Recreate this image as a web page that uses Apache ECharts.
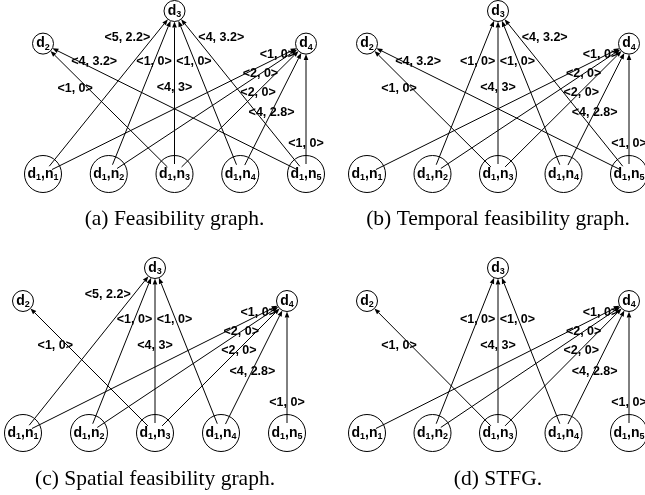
<!DOCTYPE html>
<html>
<head>
<meta charset="utf-8">
<script src="https://cdn.jsdelivr.net/npm/echarts@6/dist/echarts.min.js"></script>
<style>
  html, body { margin: 0; padding: 0; background: #fff; }
  #chart { width: 645px; height: 495px; }
</style>
</head>
<body>
<div id="chart"></div>
<script>
// ---- graph data ----
// Nodes: destinations d2, d3, d4 on top, slots (d1, n1..n5) on the bottom row.
const nodeLabels = [
  '{m|d}{s|2}', '{m|d}{s|3}', '{m|d}{s|4}',
  '{m|d}{s|1}{m|,n}{s|1}', '{m|d}{s|1}{m|,n}{s|2}', '{m|d}{s|1}{m|,n}{s|3}',
  '{m|d}{s|1}{m|,n}{s|4}', '{m|d}{s|1}{m|,n}{s|5}'
];
const nodeX = [0, 2, 4, 0, 1, 2, 3, 4];
const nodeY = [2, 2.5, 2, 0, 0, 0, 0, 0];
const isTopNode = [1, 1, 1, 0, 0, 0, 0, 0];

// Directed edges (index into the node arrays) and their <cost, delay> labels
const edgeSource = [3, 7, 4, 6, 5, 5, 7, 3, 4, 5, 6, 7];
const edgeTarget = [1, 1, 1, 1, 1, 0, 0, 2, 2, 2, 2, 2];
const edgeText = ['<5, 2.2>', '<4, 3.2>', '<1, 0>', '<1, 0>', '<4, 3>', '<1, 0>',
                  '<4, 3.2>', '<1, 0>', '<2, 0>', '<2, 0>', '<4, 2.8>', '<1, 0>'];
// Feasibility flags per edge
const temporalOk = [0, 1, 1, 1, 1, 1, 1, 1, 1, 1, 1, 1];
const spatialOk  = [1, 0, 1, 1, 1, 1, 0, 1, 1, 1, 1, 1];

const captions = ['(a) Feasibility graph.', '(b) Temporal feasibility graph.',
                  '(c) Spatial feasibility graph.', '(d) STFG.'];

// ---- layout ----
const panelGrids = [
  { left: 43,  top: 11,  width: 263, height: 163 },
  { left: 367, top: 11,  width: 262, height: 163 },
  { left: 23,  top: 268, width: 264, height: 165 },
  { left: 367, top: 268, width: 262, height: 165 }
];
const captionY = [219, 219, 479, 479];
// where each edge label sits: fraction along the edge from its source, and a sideways shift (px)
const labelAlong = [0.839, 0.839, 0.689, 0.689, 0.53, 0.659, 0.865, 0.914, 0.769, 0.628, 0.468, 0.234];
const labelShift = [-26, 25.6, 0, -1, 0, -12.7, 15.7, -6, 0, 1, 0.5, 0];

const panelEdgeFilter = [
  () => true,
  (e) => temporalOk[e] === 1,
  (e) => spatialOk[e] === 1,
  (e) => temporalOk[e] === 1 && spatialOk[e] === 1
];

const TOP_SIZE = 21, BOTTOM_SIZE = 37;
const SOURCE_INSET = 10;   // edges start inside the slot circle, at its label
const ARROW_LEN = 6, ARROW_HALF = 2.3;
const LABEL_FONT = 'bold 12.5px "Liberation Sans", Arial, sans-serif';

function edgeItems(p) {
  const out = [];
  for (let e = 0; e < edgeSource.length; e++) {
    if (!panelEdgeFilter[p](e)) continue;
    const s = edgeSource[e], t = edgeTarget[e];
    out.push([nodeX[s], nodeY[s], nodeX[t], nodeY[t], e]);
  }
  return out;
}

function renderEdge(params, api) {
  const p0 = api.coord([api.value(0), api.value(1)]);
  const p1 = api.coord([api.value(2), api.value(3)]);
  const e = api.value(4);
  const dx = p1[0] - p0[0], dy = p1[1] - p0[1];
  const len = Math.hypot(dx, dy);
  const ux = dx / len, uy = dy / len;
  const rt = TOP_SIZE / 2;
  const start = [p0[0] + ux * SOURCE_INSET, p0[1] + uy * SOURCE_INSET];
  const tip = [p1[0] - ux * rt, p1[1] - uy * rt];
  const base = [tip[0] - ux * ARROW_LEN, tip[1] - uy * ARROW_LEN];
  const nx = -uy, ny = ux;
  const f = labelAlong[e];
  const lx = p0[0] + dx * f + labelShift[e];
  const ly = p0[1] + dy * f;
  return {
    type: 'group',
    children: [
      { type: 'line', shape: { x1: start[0], y1: start[1], x2: base[0], y2: base[1] },
        style: { stroke: '#000', lineWidth: 1 } },
      { type: 'polygon',
        shape: { points: [tip, [base[0] + nx * ARROW_HALF, base[1] + ny * ARROW_HALF],
                              [base[0] - nx * ARROW_HALF, base[1] - ny * ARROW_HALF]] },
        style: { fill: '#000' } },
      { type: 'text', x: lx, y: ly,
        style: { text: edgeText[e], font: LABEL_FONT, fill: '#000',
                 align: 'center', verticalAlign: 'middle' } }
    ]
  };
}

const series = [];
panelGrids.forEach((g, p) => {
  series.push({
    type: 'custom',
    xAxisIndex: p, yAxisIndex: p,
    clip: false, silent: true,
    renderItem: renderEdge,
    data: edgeItems(p),
    z: 2
  });
  series.push({
    type: 'scatter',
    xAxisIndex: p, yAxisIndex: p,
    clip: false, silent: true,
    symbol: 'circle',
    symbolSize: (v, prm) => isTopNode[prm.dataIndex] ? TOP_SIZE : BOTTOM_SIZE,
    itemStyle: { color: 'rgba(255,255,255,0)', borderColor: '#000', borderWidth: 1, opacity: 1 },
    label: {
      show: true, position: 'inside',
      formatter: (prm) => nodeLabels[prm.dataIndex],
      rich: {
        m: { fontFamily: '"Liberation Sans", Arial, sans-serif', fontWeight: 'bold', fontSize: 14, color: '#000' },
        s: { fontFamily: '"Liberation Sans", Arial, sans-serif', fontWeight: 'bold', fontSize: 9, color: '#000',
             padding: [7, 0, 0, 0] }
      }
    },
    emphasis: { disabled: true },
    data: nodeX.map((x, i) => [x, nodeY[i]]),
    z: 3
  });
});

const chart = echarts.init(document.getElementById('chart'), null, { renderer: 'canvas' });
chart.setOption({
  animation: false,
  backgroundColor: '#fff',
  grid: panelGrids.map(g => Object.assign({ containLabel: false }, g)),
  xAxis: panelGrids.map((g, p) => ({ type: 'value', gridIndex: p, min: 0, max: 4, show: false })),
  yAxis: panelGrids.map((g, p) => ({ type: 'value', gridIndex: p, min: 0, max: 2.5, show: false })),
  graphic: captions.map((c, p) => ({
    type: 'text',
    x: panelGrids[p].left + panelGrids[p].width / 2,
    y: captionY[p],
    style: { text: c, font: '21.5px "Liberation Serif", "Times New Roman", serif', fill: '#000',
             align: 'center', verticalAlign: 'middle' }
  })),
  series: series
});
</script>
</body>
</html>
